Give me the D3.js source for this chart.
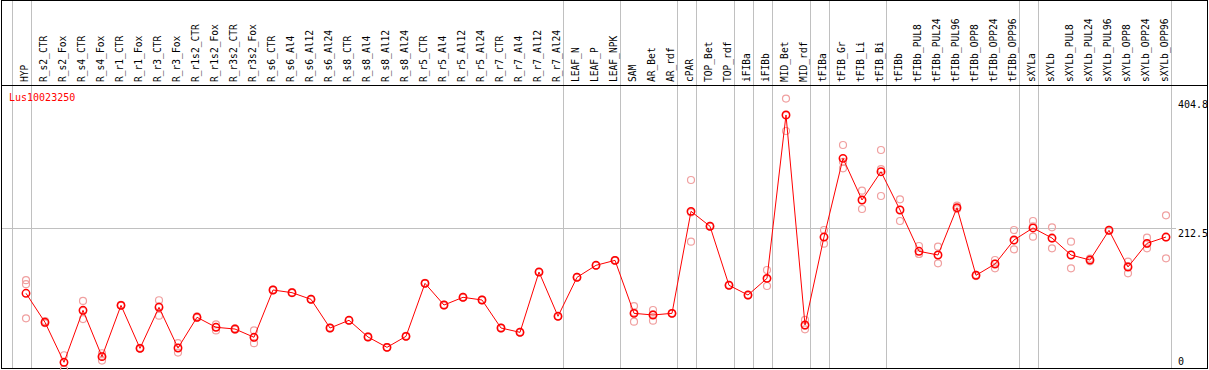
<!DOCTYPE html>
<html>
<head>
<meta charset="utf-8">
<script src="https://cdn.jsdelivr.net/npm/d3@7"></script>
<style>
  body { margin: 0; background: #fff; }
  text { font-family: "DejaVu Sans Mono", monospace; }
</style>
</head>
<body>
<div id="chart"></div>
<script>
// sample labels (columns)
var labels = ["HYP", "R_s2_CTR", "R_s2_Fox", "R_s4_CTR", "R_s4_Fox", "R_r1_CTR", "R_r1_Fox",
  "R_r3_CTR", "R_r3_Fox", "R_r1s2_CTR", "R_r1s2_Fox", "R_r3s2_CTR", "R_r3s2_Fox",
  "R_s6_CTR", "R_s6_Al4", "R_s6_Al12", "R_s6_Al24", "R_s8_CTR", "R_s8_Al4", "R_s8_Al12", "R_s8_Al24",
  "R_r5_CTR", "R_r5_Al4", "R_r5_Al12", "R_r5_Al24", "R_r7_CTR", "R_r7_Al4", "R_r7_Al12", "R_r7_Al24",
  "LEAF_N", "LEAF_P", "LEAF_NPK", "SAM", "AR_Bet", "AR_rdf", "cPAR", "TOP_Bet", "TOP_rdf",
  "iFIBa", "iFIBb", "MID_Bet", "MID_rdf", "tFIBa", "tFIB_Gr", "tFIB_Li", "tFIB_Bi", "tFIBb",
  "tFIBb_PUL8", "tFIBb_PUL24", "tFIBb_PUL96", "tFIBb_OPP8", "tFIBb_OPP24", "tFIBb_OPP96",
  "sXYLa", "sXYLb", "sXYLb_PUL8", "sXYLb_PUL24", "sXYLb_PUL96", "sXYLb_OPP8", "sXYLb_OPP24", "sXYLb_OPP96"];

// mean expression (line)
var meanVals = [114.4, 71.1, 11.5, 89, 19.9, 96.4, 32.3, 93.5, 32.8, 78.6, 63.7, 61.1, 48.8,
  119.3, 115.3, 105.4, 62.6, 74.1, 49.2, 33.8, 50.2, 129.2, 96.9, 108.4, 104.4, 62.6, 56.2, 146.1, 80.1,
  138.2, 156.1, 163.5, 84.5, 82, 84.5, 236.6, 214.3, 126.3, 111.8, 136.7, 380.3, 67.1,
  198.3, 315.6, 253.5, 295.7, 238.6, 177, 171.5, 242, 141.2, 158.1, 193.9,
  211.8, 196.8, 171.5, 164, 208.3, 153.6, 188.9, 198.3];

// replicates (pale circles)
var rep1 = [134, 70, 22, 103, 25, 96, 32, 104, 40, 80, 68, 62, 59,
  119, 115, 105, 62, 74, 49, 34, 50, 129, 97, 108, 104, 63, 56, 146, 80,
  138, 156, 163, 95.4, 89.5, 84, 283.3, 215, 127, 112, 149.1, 404.8, 74.6,
  208.8, 335.5, 267.4, 328.1, 254.5, 184.9, 183.9, 245, 142, 164, 208.8,
  222.2, 212.8, 191.3, 166, 209, 161.5, 197.3, 230.7];
var rep2 = [128, 73, 1, 76, 14, 97, 33, 81, 26, 78, 59, 60, 40,
  120, 116, 106, 63, 74, 49, 33, 51, 130, 96, 109, 105, 62, 57, 146, 80,
  139, 156, 164, 72, 73.5, 85, 191.3, 214, 126, 111, 125.3, 356.4, 60.6,
  188.4, 300.8, 240.1, 259.5, 222.2, 173, 159.1, 240, 140, 151.6, 180,
  198.8, 181.5, 151.6, 162, 208, 144.2, 181.5, 166.6];
var rep3 = [77, 70, 11, 88, 21, 96, 32, 95, 33, 78, 64, 61, 48,
  119, 115, 105, 63, 74, 50, 34, 50, 129, 97, 108, 104, 63, 56, 146, 80,
  138, 156, 163, 86, 83, 84.5, 235, 214, 126, 112, 136, 379.7, 66,
  198, 310.5, 253, 299.5, 239, 173, 171.5, 241, 141, 158.7, 193,
  214.4, 196, 171.6, 164, 208, 155, 188, 197.6];

// index of last column in each group (separator drawn right of it)
var groupEnds = [-1, 0, 28, 31, 34, 35, 37, 38, 39, 41, 42, 45, 52, 53, 60];

var geneName = "Lus10023250";
var tickVals = [404.8, 212.5, 0];
var gridVal = 212.5;

var width = 1209, height = 370;

var svg = d3.select("#chart")
  .append("svg")
  .attr("width", width)
  .attr("height", height);

var x = d3.scalePoint()
  .domain(labels)
  .range([26, 1166]);

var y = d3.scaleLinear()
  .domain([0, 425])
  .range([370, 85]);

// group separators
svg.selectAll("line.sep")
  .data(groupEnds)
  .enter()
  .append("line")
  .attr("x1", d => Math.round(26 + d * x.step() + 4.7) + 0.5)
  .attr("x2", d => Math.round(26 + d * x.step() + 4.7) + 0.5)
  .attr("y1", 0)
  .attr("y2", 369)
  .style("stroke", "#c0c0c0");

// horizontal grid line
svg.append("line")
  .attr("x1", 1)
  .attr("x2", 1176)
  .attr("y1", Math.round(y(gridVal)) + 0.5)
  .attr("y2", Math.round(y(gridVal)) + 0.5)
  .style("stroke", "#c0c0c0");

// header separator and frame
svg.append("line")
  .attr("x1", 1)
  .attr("x2", 1208)
  .attr("y1", 85.5)
  .attr("y2", 85.5)
  .style("stroke", "#000");

svg.append("rect")
  .attr("x", 1.5)
  .attr("y", 0.5)
  .attr("width", 1206)
  .attr("height", 368)
  .style("fill", "none")
  .style("stroke", "#000");

// column labels
svg.selectAll("text.lab")
  .data(labels)
  .enter()
  .append("text")
  .attr("transform", d => "translate(" + (x(d) - 1) + ",82) rotate(-90)")
  .attr("dy", "0.35em")
  .style("font-size", "9.6px")
  .style("fill", "#000")
  .text(d => d);

// right axis labels
svg.selectAll("text.tick")
  .data(tickVals)
  .enter()
  .append("text")
  .attr("x", 1178)
  .attr("y", d => Math.min(y(d) + 9, 365))
  .style("font-size", "10px")
  .style("fill", "#000")
  .text(d => d);

// gene name
svg.append("text")
  .attr("x", 9)
  .attr("y", 101)
  .style("font-size", "10px")
  .style("fill", "#ff0000")
  .text(geneName);

// replicate circles
[rep1, rep2, rep3].forEach(rep => {
  svg.append("g")
    .selectAll("circle")
    .data(rep)
    .enter()
    .append("circle")
    .attr("cx", (d, i) => x(labels[i]))
    .attr("cy", d => y(d))
    .attr("r", 3.5)
    .style("fill", "none")
    .style("stroke", "#f0a0a0")
    .style("stroke-width", 1.2);
});

// mean line
var line = d3.line()
  .x((d, i) => x(labels[i]))
  .y(d => y(d));

svg.append("path")
  .datum(meanVals)
  .attr("d", line)
  .style("fill", "none")
  .style("stroke", "#ff0000")
  .style("stroke-width", 1);

svg.append("g")
  .selectAll("circle")
  .data(meanVals)
  .enter()
  .append("circle")
  .attr("cx", (d, i) => x(labels[i]))
  .attr("cy", d => y(d))
  .attr("r", 3.7)
  .style("fill", "none")
  .style("stroke", "#ff0000")
  .style("stroke-width", 1.5);
</script>
</body>
</html>
